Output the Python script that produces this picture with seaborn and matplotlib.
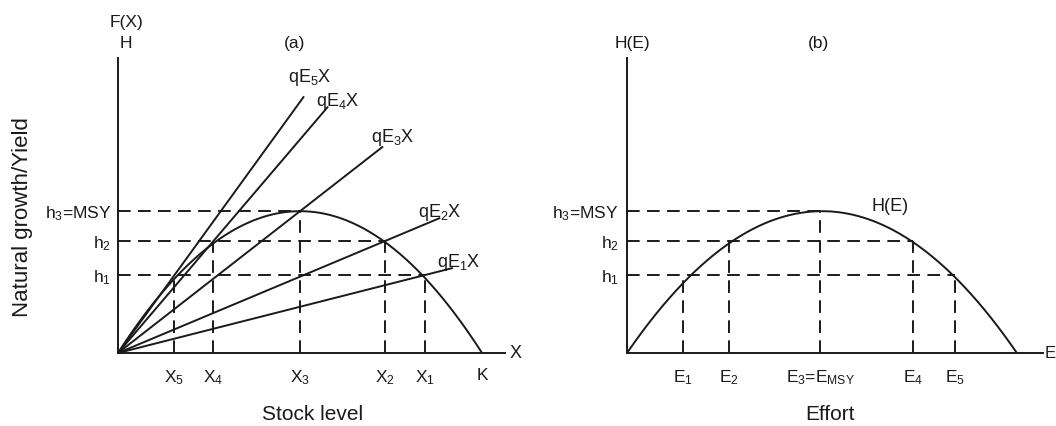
import numpy as np
import pandas as pd
import seaborn as sns
import matplotlib.pyplot as plt

# stock level (K = 1) and harvest levels (MSY = 1)
stock_labels = ["$X_5$", "$X_4$", "$X_3$", "$X_2$", "$X_1$"]
stock_points = [0.155, 0.262, 0.50, 0.733, 0.842]
harvest_labels = ["$h_1$", "$h_2$", "$h_3$=MSY"]
harvest_levels = [0.549, 0.789, 1.0]
# harvest level reached by each effort line E5..E1 / stock point
stock_harvest = [0.549, 0.789, 1.0, 0.789, 0.549]
effort_line_labels = ["$qE_5X$", "$qE_4X$", "$qE_3X$", "$qE_2X$", "$qE_1X$"]
effort_line_end = [0.511, 0.577, 0.728, 0.885, 0.920]

effort_labels = ["$E_1$", "$E_2$", "$E_3$=$E_{MSY}$", "$E_4$", "$E_5$"]
effort_points = [0.144, 0.262, 0.495, 0.733, 0.841]
effort_harvest = [0.549, 0.789, 1.0, 0.789, 0.549]

growth_rate = 4.0      # r, gives MSY = rK/4 = 1
capacity = 1.0         # K
effort_max = 1.0       # effort where yield drops to zero

INK = "#1a1a1a"
LW = 1.4
DASH = (0, (6.5, 3.8))


def style_axes(ax, xmax):
    ax.set_xlim(0, xmax)
    ax.set_ylim(0, 2.08)
    sns.despine(ax=ax)
    for side in ["left", "bottom"]:
        ax.spines[side].set_color(INK)
        ax.spines[side].set_linewidth(LW)
    ax.tick_params(length=0, labelsize=12.5, colors=INK)
    ax.tick_params(axis="x", pad=11)
    ax.tick_params(axis="y", pad=5)
    ax.set_xlabel("")
    ax.set_ylabel("")


def main():
    sns.set_theme(style="white")
    plt.rcParams["font.family"] = ["Liberation Sans", "DejaVu Sans"]
    plt.rcParams["mathtext.default"] = "regular"

    fig = plt.figure(figsize=(10.56, 4.26), dpi=100)
    ax1 = fig.add_axes([118 / 1056, 73 / 426, 387 / 1056, 295 / 426])
    ax2 = fig.add_axes([627 / 1056, 73 / 426, 416 / 1056, 295 / 426])

    # (a) natural growth against stock
    stock = np.linspace(0, capacity, 300)
    growth = pd.DataFrame({"x": stock, "F": growth_rate * stock * (1 - stock / capacity)})
    sns.lineplot(data=growth, x="x", y="F", ax=ax1, color=INK, lw=LW)

    for xp, hp, end in zip(stock_points, stock_harvest, effort_line_end):
        slope = hp / xp
        ax1.plot([0, end], [0, slope * end], color=INK, lw=LW, solid_capstyle="butt")
        ax1.plot([xp, xp], [0, hp], color=INK, lw=LW, ls=DASH)

    for hp, xr in zip(harvest_levels, [stock_points[4], stock_points[3], stock_points[2]]):
        ax1.plot([0, xr], [hp, hp], color=INK, lw=LW, ls=DASH)

    label_pos = [(0.467, 1.908), (0.544, 1.739), (0.695, 1.486), (0.824, 0.958), (0.876, 0.606)]
    for (tx, ty), lab in zip(label_pos, effort_line_labels):
        ax1.text(tx, ty, lab, fontsize=13, color=INK, ha="left", va="baseline")

    style_axes(ax1, 1.063)
    ax1.set_xticks(stock_points + [capacity], stock_labels + ["K"])
    ax1.set_yticks(harvest_levels, harvest_labels)
    ax1.text(0.022, 2.33, "F(X)", fontsize=12.5, color=INK, ha="center", va="center", clip_on=False)
    ax1.text(0.022, 2.18, "H", fontsize=12.5, color=INK, ha="center", va="center", clip_on=False)
    ax1.text(0.486, 2.18, "(a)", fontsize=12.5, color=INK, ha="center", va="center", clip_on=False)
    ax1.text(1.075, 0.0, "X", fontsize=13, color=INK, ha="left", va="center", clip_on=False)
    ax1.set_xlabel("Stock level", fontsize=15, color=INK)
    ax1.xaxis.set_label_coords(0.504, -0.21)
    ax1.xaxis.label.set_va("center")
    ax1.set_ylabel("Natural growth/Yield", fontsize=16, color=INK)
    ax1.yaxis.set_label_coords(-0.248, 0.46)
    ax1.yaxis.label.set_va("center")

    # (b) yield against effort
    effort = np.linspace(0, effort_max, 300)
    yield_df = pd.DataFrame({"E": effort, "H": 4.0 * effort * (1 - effort / effort_max)})
    sns.lineplot(data=yield_df, x="E", y="H", ax=ax2, color=INK, lw=LW)

    for ep, hp in zip(effort_points, effort_harvest):
        ax2.plot([ep, ep], [0, hp], color=INK, lw=LW, ls=DASH)
    for hp, er in zip(harvest_levels, [effort_points[4], effort_points[3], effort_points[2]]):
        ax2.plot([0, er], [hp, hp], color=INK, lw=LW, ls=DASH)

    style_axes(ax2, 1.067)
    ax2.set_xticks(effort_points, effort_labels)
    ax2.set_yticks(harvest_levels, harvest_labels)
    ax2.tick_params(axis="y", pad=6)
    ax2.text(0.674, 1.03, "H(E)", fontsize=13, color=INK, ha="center", va="center")
    ax2.text(0.013, 2.18, "H(E)", fontsize=12.5, color=INK, ha="center", va="center", clip_on=False)
    ax2.text(0.49, 2.18, "(b)", fontsize=12.5, color=INK, ha="center", va="center", clip_on=False)
    ax2.text(1.072, 0.0, "E", fontsize=12, color=INK, ha="left", va="center", clip_on=False)
    ax2.set_xlabel("Effort", fontsize=15, color=INK)
    ax2.xaxis.set_label_coords(0.488, -0.21)
    ax2.xaxis.label.set_va("center")

    fig.savefig("out.png", dpi=100)


if __name__ == "__main__":
    main()
